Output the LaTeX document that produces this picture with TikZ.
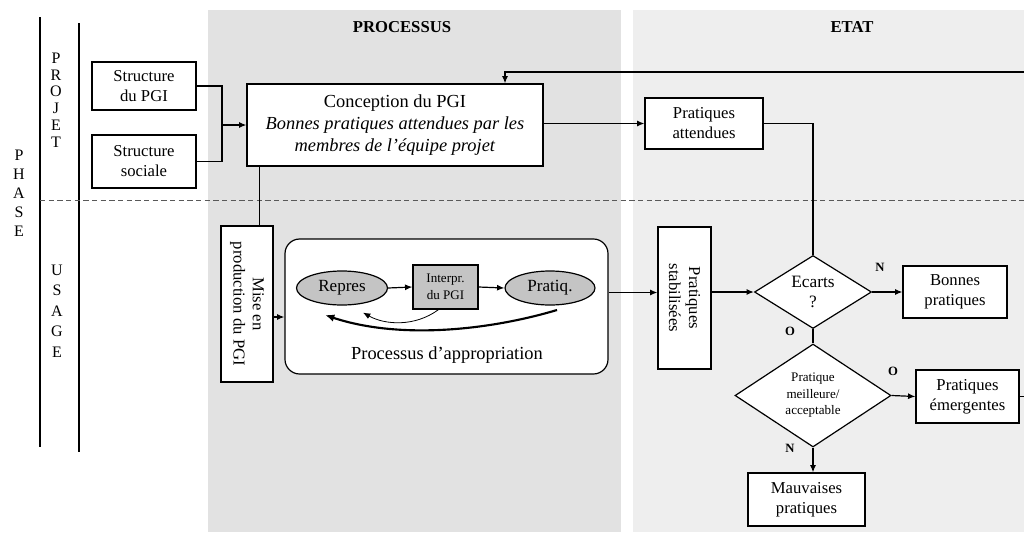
\documentclass[tikz,border=0pt]{standalone}
\usepackage{fontspec}
\setmainfont{Liberation Serif}
\usetikzlibrary{arrows.meta,shapes.geometric,calc}
\definecolor{procgray}{HTML}{E2E2E2}
\definecolor{etatgray}{HTML}{EEEEEE}
\definecolor{ovalgray}{HTML}{C4C4C4}
\tikzset{
  arr/.style={-{Latex[length=5.5pt,width=4.5pt]}},
  ln/.style={line width=0.9pt},
  bx/.style={draw, line width=0.9pt, fill=white, inner sep=0pt, align=center},
  lett/.style={align=center, inner sep=0pt},
  lbl/.style={font=\fontsize{9.5}{11}\selectfont\bfseries, inner sep=0pt},
}
\begin{document}
\begin{tikzpicture}[x=0.75pt,y=-0.75pt]
\useasboundingbox (0,0) rectangle (1024,532);
\clip (0,0) rectangle (1024,532);
\fill[white] (0,0) rectangle (1024,532);
% backgrounds
\fill[procgray] (208,10) rectangle (621,532);
\fill[etatgray] (633,10) rectangle (1024,532);
\node[font=\fontsize{12.5}{14}\selectfont\bfseries] (tproc) at (402,27) {PROCESSUS};
\node[font=\fontsize{12.5}{14}\selectfont\bfseries] (tetat) at (852,27) {ETAT};
% phase columns
\draw[ln] (40,17) -- (40,447);
\draw[ln] (79,23) -- (79,452);
\draw[line width=0.7pt, gray!70!black, dash pattern=on 4pt off 2.5pt] (40,200) -- (1024,200);
\node[lett, font=\fontsize{12}{14.2}\selectfont] (phase) at (19,193) {P\\H\\A\\S\\E};
\node[lett, font=\fontsize{12}{12.6}\selectfont] (projet) at (56,100) {P\\R\\O\\J\\E\\T};
\node[lett, font=\fontsize{12}{15.4}\selectfont] (usage) at (57,311) {U\\S\\A\\G\\E};
% project boxes
\node[bx, font=\fontsize{12.5}{15}\selectfont, minimum width={104*0.75pt}, minimum height={48*0.75pt}] (spgi) at (144,86) {Structure\\du PGI};
\node[bx, font=\fontsize{12.5}{15}\selectfont, minimum width={104*0.75pt}, minimum height={53*0.75pt}] (ssoc) at (144,161.5) {Structure\\sociale};
\node[bx, font=\fontsize{13.8}{16.5}\selectfont, minimum width={296*0.75pt}, minimum height={82*0.75pt}] (conc) at (395,125) {Conception du PGI\\\textit{Bonnes pratiques attendues par les}\\\textit{membres de l’équipe projet}};
\node[bx, font=\fontsize{12.5}{15}\selectfont, minimum width={118*0.75pt}, minimum height={51*0.75pt}] (patt) at (704,123.5) {Pratiques\\attendues};
\coordinate (jn) at (222,125);
\draw[ln] (spgi.east) -| (jn) |- (ssoc.east);
\draw[ln,arr] (jn) -- (conc.west);
\draw[ln,arr] (conc.east |- patt.west) -- (patt.west);
% usage
\node[bx, minimum width={52*0.75pt}, minimum height={156*0.75pt}] (mise) at (247,304) {};
\node[lett, rotate=-90, font=\fontsize{12.5}{14.3}\selectfont] (miset) at (mise) {Mise en\\production du PGI};
\draw[ln] ([xshift=9.75pt]conc.south west) -- ([xshift=9.75pt]conc.south west |- mise.north);
\node[bx, rounded corners=11pt, minimum width={323*0.75pt}, minimum height={135*0.75pt}] (appr) at (446.5,306.5) {};
\coordinate (y317) at (0,317);
\draw[ln,arr] (mise.east |- y317) -- (appr.west |- y317);
\node[draw, line width=0.9pt, fill=ovalgray, ellipse, inner sep=0pt, minimum width={91*0.75pt}, minimum height={34*0.75pt}, font=\fontsize{12.8}{14}\selectfont] (repres) at (342,288) {Repres};
\node[bx, fill=ovalgray, minimum width={65*0.75pt}, minimum height={44*0.75pt}, font=\fontsize{9.8}{12.5}\selectfont] (interp) at (445.5,287) {Interpr.\\du PGI};
\node[draw, line width=0.9pt, fill=ovalgray, ellipse, inner sep=0pt, minimum width={90*0.75pt}, minimum height={34*0.75pt}, font=\fontsize{12.8}{14}\selectfont] (pratq) at (550,288) {Pratiq.};
\node[font=\fontsize{13.8}{15}\selectfont, inner sep=0pt] (apprt) at (447,355) {Processus d’appropriation};
\draw[ln,arr] (repres.east) -- (interp.west);
\draw[ln,arr] (interp.east) -- (pratq.west);
\draw[line width=0.6pt,arr] ([xshift=-5.25pt]interp.south) .. controls (415,327) and (385,325) .. ([shift={(21,7)}]repres.south);
\draw[line width=1.6pt,-{Latex[length=7pt,width=5.5pt]}] ([shift={(7,22)}]pratq.center) .. controls (490,330) and (400,340) .. ([shift={(-17,27)}]repres.center);
% stabilised
\node[bx, minimum width={53*0.75pt}, minimum height={142*0.75pt}] (stab) at (684.5,298) {};
\node[lett, rotate=-90, font=\fontsize{12.5}{15}\selectfont] (stabt) at (stab) {Pratiques\\stabilisées};
\coordinate (y293) at (0,292.5);
\draw[ln,arr] (appr.east |- y293) -- (stab.west |- y293);
% decisions
\node[draw, line width=0.9pt, fill=white, diamond, aspect=1.6, inner sep=0pt, minimum width={117*0.75pt}, minimum height={73*0.75pt}, align=center, font=\fontsize{13}{15}\selectfont] (ecarts) at (813,292) {Ecarts\\?};
\draw[ln,arr] (stab.east |- ecarts.west) -- (ecarts.west);
\draw[ln] (patt.east) -| (ecarts.north);
\node[bx, font=\fontsize{12.5}{15}\selectfont, minimum width={104*0.75pt}, minimum height={52*0.75pt}] (bonnes) at (955,292) {Bonnes\\pratiques};
\draw[ln,arr] (ecarts.east) -- (bonnes.west);
\node[draw, line width=0.9pt, fill=white, diamond, aspect=1.5, inner sep=0pt, minimum width={156*0.75pt}, minimum height={103*0.75pt}, align=center, font=\fontsize{9.8}{12.4}\selectfont] (pdiam) at (813,395.5) {Pratique\\meilleure/\\acceptable};
\draw[ln] (ecarts.south) -- (pdiam.north);
\node[bx, font=\fontsize{12.5}{15}\selectfont, minimum width={103*0.75pt}, minimum height={53*0.75pt}] (emerg) at (967.5,396.5) {Pratiques\\émergentes};
\draw[ln,arr] (pdiam.east) -- (emerg.west);
\node[bx, font=\fontsize{12.5}{15}\selectfont, minimum width={117*0.75pt}, minimum height={53*0.75pt}] (mauv) at (806.5,499.5) {Mauvaises\\pratiques};
\draw[ln,arr] (pdiam.south) -- (mauv.north -| pdiam.south);
% labels
\node[lbl] (ln1) at (880,267) {N};
\node[lbl] (lo1) at (790,331) {O};
\node[lbl] (lo2) at (893,371) {O};
\node[lbl] (ln2) at (790,448) {N};
% feedback loop
\coordinate (fbr) at (1040,396.5);
\coordinate (fbt) at (1040,72);
\coordinate (fbx) at (505,72);
\draw[ln,arr] (emerg.east) -- (fbr) -- (fbt) -- (fbx) -- (fbx |- conc.north);
\end{tikzpicture}
\end{document}
